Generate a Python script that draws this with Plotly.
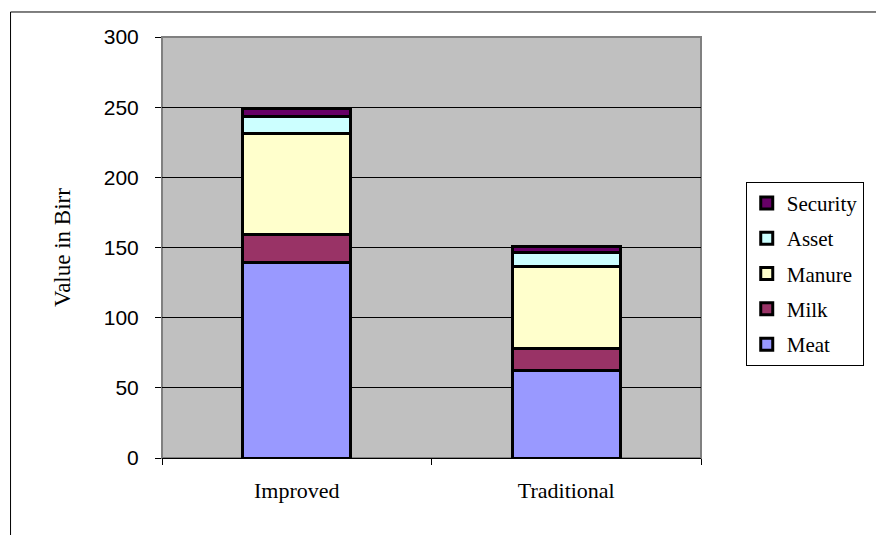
import plotly.graph_objects as go

categories = ["Improved", "Traditional"]
series_names = ["Meat", "Milk", "Manure", "Asset", "Security"]
meat = [139, 62]
milk = [20.6, 15.7]
manure = [71.3, 58.6]
asset = [12.8, 10.3]
security = [5.7, 4.4]
y_ticks = [0, 50, 100, 150, 200, 250, 300]

values = [meat, milk, manure, asset, security]
colors = ["#9999FF", "#993366", "#FFFFCC", "#CCFFFF", "#660066"]

fig = go.Figure()
for i, (name, vals, col) in enumerate(zip(series_names, values, colors)):
    fig.add_trace(go.Bar(
        x=categories, y=vals, name=name, legendgroup=name,
        legendrank=len(series_names) - i,
        marker=dict(color=col, line=dict(color="black", width=3)),
    ))

fig.update_layout(
    width=876, height=535,
    margin=dict(l=162, r=173, t=37, b=77),
    barmode="stack", bargap=0.6,
    plot_bgcolor="#C0C0C0", paper_bgcolor="white",
    font=dict(family="Liberation Sans", color="black"),
    legend=dict(
        traceorder="grouped", tracegroupgap=5,
        x=1.083, xanchor="left", y=0.656, yanchor="top",
        bgcolor="white", bordercolor="black", borderwidth=1,
        font=dict(family="Liberation Serif", size=21, color="black"),
        itemwidth=30,
    ),
    showlegend=True,
)
fig.update_yaxes(
    range=[0, 300], tickvals=y_ticks, ticks="outside", ticklen=6, tickcolor="black",
    showgrid=True, gridcolor="black", gridwidth=1, zeroline=False, showline=False,
    tickfont=dict(family="Liberation Sans", size=21, color="black"),
    ticklabelstandoff=12,
    title=dict(text="Value in Birr", font=dict(family="Liberation Serif", size=23, color="black"), standoff=26),
)
fig.update_xaxes(
    type="category", tickson="boundaries", ticks="outside", ticklen=6, tickcolor="black",
    showline=True, linecolor="black", linewidth=1, showgrid=False,
    tickfont=dict(family="Liberation Serif", size=22, color="black"),
    ticklabelstandoff=13,
)
# plot area border (gray) and outer chart border
fig.add_shape(type="rect", xref="paper", yref="paper", x0=0, x1=1, y0=0, y1=1,
              line=dict(color="#808080", width=2), layer="below")
fig.add_shape(type="rect", xref="paper", yref="paper", x0=-0.281, x1=1.4, y0=-0.25, y1=1.0594,
              line=dict(color="black", width=1), fillcolor="rgba(0,0,0,0)")

fig.write_html("out.html")
